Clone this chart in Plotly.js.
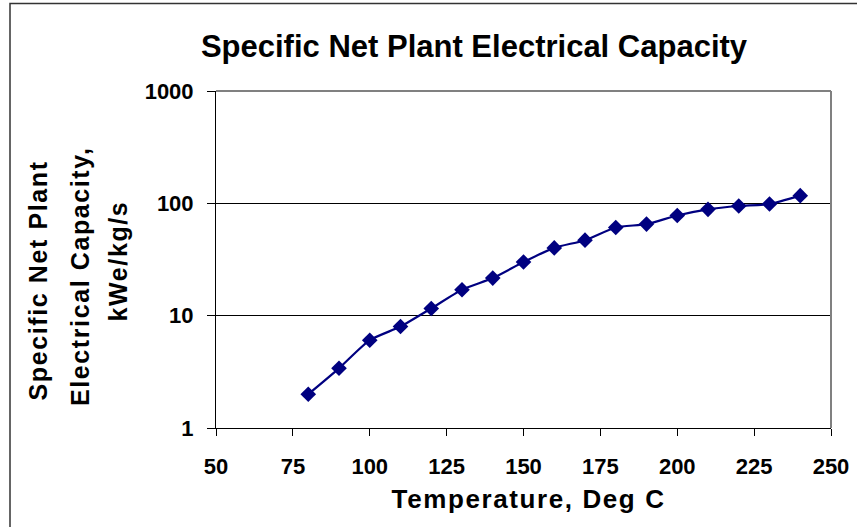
<!DOCTYPE html>
<html>
<head>
<meta charset="utf-8">
<script src="https://cdn.plot.ly/plotly-3.0.1.min.js"></script>
<style>
  html, body { margin: 0; padding: 0; background: #ffffff; }
  #chart { width: 857px; height: 527px; }
</style>
</head>
<body>
<div id="chart"></div>
<script>
// Data
const temperatureC = [80, 90, 100, 110, 120, 130, 140, 150, 160, 170, 180, 190, 200, 210, 220, 230, 240];
const capacity = [2.0, 3.4, 6.05, 8.0, 11.6, 17.0, 21.6, 30.0, 40.1, 47.0, 61.0, 65.3, 78.0, 88.4, 94.7, 98.6, 117];
const xTickVals = [50, 75, 100, 125, 150, 175, 200, 225, 250];
const yTickVals = [1, 10, 100, 1000];
const yTickText = ['1', '10', '100', '1000'];
const chartTitle = 'Specific Net Plant Electrical Capacity';
const xTitle = 'Temperature, Deg C';
const yTitleLines = ['Specific Net Plant', 'Electrical Capacity,', 'kWe/kg/s'];

const W = 857, H = 527;
const L = 216, R = 26, T = 91, B = 99;
const pw = W - L - R, ph = H - T - B;
const px = v => (v - L) / pw;           // pixel x -> paper x
const py = v => (H - B - v) / ph;       // pixel y -> paper y

const font = 'Liberation Sans, Arial, sans-serif';
const navy = '#000080';

const trace = {
  x: temperatureC,
  y: capacity,
  type: 'scatter',
  mode: 'lines+markers',
  line: { color: navy, width: 2.2, shape: 'spline', smoothing: 0.6 },
  marker: { symbol: 'diamond', size: 12, color: navy, line: { width: 0 } },
  hoverinfo: 'x+y'
};

const yTitleX = [38, 80, 118];
const yTitleY = [280, 277, 261];
const annotations = yTitleLines.map((t, i) => ({
  text: '<b>' + t + '</b>',
  xref: 'paper', yref: 'paper',
  x: px(yTitleX[i]), y: py(yTitleY[i]),
  xanchor: 'center', yanchor: 'middle',
  textangle: -90, showarrow: false,
  font: { family: font, size: 25, color: '#000' }
}));
annotations.push({
  text: '<b>' + xTitle + '</b>',
  xref: 'paper', yref: 'paper',
  x: px(528), y: py(499),
  xanchor: 'center', yanchor: 'middle',
  showarrow: false,
  font: { family: font, size: 26, color: '#000' }
});

const layout = {
  width: W, height: H,
  margin: { l: L, r: R, t: T, b: B, pad: 0 },
  paper_bgcolor: '#ffffff',
  plot_bgcolor: '#ffffff',
  showlegend: false,
  title: {
    text: '<b>' + chartTitle + '</b>',
    font: { family: font, size: 31, color: '#000' },
    x: px(474), xanchor: 'center', xref: 'paper',
    y: 1 - 46 / H, yanchor: 'middle', yref: 'container'
  },
  xaxis: {
    range: [50, 250],
    tickvals: xTickVals,
    ticktext: xTickVals.map(String),
    ticks: 'outside', ticklen: 7, tickwidth: 1, tickcolor: '#000',
    showline: true, linecolor: '#000', linewidth: 1,
    showgrid: false, zeroline: false,
    tickfont: { family: font, size: 22, color: '#000', weight: 'bold' },
    ticklabelstandoff: 12
  },
  yaxis: {
    type: 'log',
    range: [0, 3],
    tickvals: yTickVals,
    ticktext: yTickText,
    ticks: 'outside', ticklen: 8, tickwidth: 1, tickcolor: '#000',
    showline: true, linecolor: '#000', linewidth: 1,
    showgrid: true, gridcolor: '#000', gridwidth: 1,
    zeroline: false,
    tickfont: { family: font, size: 22, color: '#000', weight: 'bold' },
    ticklabelstandoff: 9
  },
  shapes: [
    // plot area top and right border (gray)
    { type: 'line', xref: 'paper', yref: 'paper', x0: 0, x1: 1, y0: 1, y1: 1, line: { color: '#808080', width: 2 } },
    { type: 'line', xref: 'paper', yref: 'paper', x0: 1, x1: 1, y0: 0, y1: 1, line: { color: '#808080', width: 2 } },
    // outer chart border
    { type: 'rect', xref: 'paper', yref: 'paper', x0: px(10), x1: px(880), y0: py(560), y1: py(3.5),
      line: { color: '#333', width: 1.5 }, fillcolor: 'rgba(0,0,0,0)', layer: 'above' }
  ],
  annotations: annotations
};

Plotly.newPlot('chart', [trace], layout, { displayModeBar: false, staticPlot: true }).then(gd => {
  // slight letter spacing on the axis titles, as in the reference
  gd.querySelectorAll('.annotation-text').forEach(el => { el.style.letterSpacing = '1.6px'; });
});
</script>
</body>
</html>
